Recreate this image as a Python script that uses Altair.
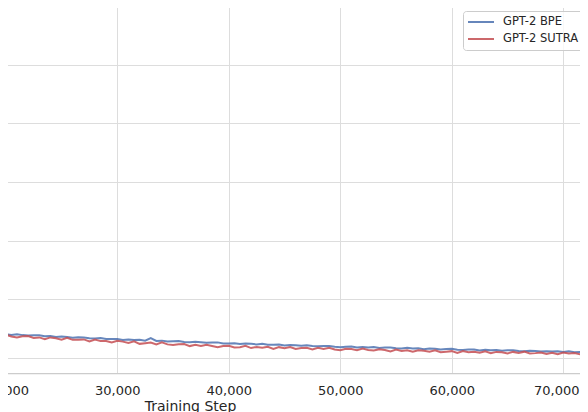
import altair as alt
import pandas as pd

steps = list(range(19000, 72001, 500))

bpe_loss = [
    3.419, 3.405, 3.407, 3.393, 3.404, 3.390, 3.382, 3.388, 3.387, 3.371,
    3.373, 3.360, 3.368, 3.358, 3.346, 3.353, 3.351, 3.337, 3.334, 3.340,
    3.322, 3.325, 3.325, 3.308, 3.316, 3.307, 3.311, 3.296, 3.339, 3.291,
    3.296, 3.280, 3.287, 3.288, 3.274, 3.267, 3.277, 3.270, 3.259, 3.265,
    3.266, 3.248, 3.249, 3.252, 3.237, 3.248, 3.241, 3.232, 3.242, 3.225,
    3.226, 3.231, 3.214, 3.223, 3.218, 3.207, 3.218, 3.206, 3.199, 3.206,
    3.205, 3.192, 3.185, 3.193, 3.194, 3.180, 3.188, 3.180, 3.187, 3.169,
    3.177, 3.179, 3.166, 3.162, 3.174, 3.162, 3.165, 3.151, 3.163, 3.157,
    3.146, 3.154, 3.156, 3.142, 3.138, 3.144, 3.146, 3.130, 3.140, 3.132,
    3.138, 3.124, 3.130, 3.134, 3.120, 3.114, 3.125, 3.119, 3.109, 3.117,
    3.109, 3.115, 3.103, 3.113, 3.097, 3.104, 3.096,
]

sutra_loss = [
    3.402, 3.372, 3.398, 3.367, 3.350, 3.371, 3.374, 3.342, 3.351, 3.320,
    3.351, 3.338, 3.313, 3.344, 3.309, 3.312, 3.317, 3.282, 3.315, 3.288,
    3.290, 3.265, 3.292, 3.279, 3.257, 3.283, 3.241, 3.253, 3.263, 3.232,
    3.266, 3.232, 3.222, 3.235, 3.239, 3.203, 3.225, 3.204, 3.226, 3.204,
    3.184, 3.205, 3.207, 3.179, 3.185, 3.207, 3.169, 3.189, 3.173, 3.191,
    3.155, 3.185, 3.167, 3.187, 3.155, 3.169, 3.173, 3.145, 3.173, 3.155,
    3.175, 3.145, 3.133, 3.159, 3.152, 3.132, 3.160, 3.136, 3.127, 3.147,
    3.137, 3.112, 3.144, 3.120, 3.132, 3.107, 3.133, 3.123, 3.106, 3.132,
    3.098, 3.107, 3.117, 3.086, 3.120, 3.097, 3.106, 3.088, 3.113, 3.080,
    3.104, 3.097, 3.078, 3.104, 3.085, 3.108, 3.078, 3.083, 3.095, 3.070,
    3.089, 3.063, 3.092, 3.077, 3.085, 3.064, 3.078,
]

series_names = ["GPT-2 BPE", "GPT-2 SUTRA"]
series_colors = ["#4c72b0", "#c44e52"]
x_ticks = [20000, 30000, 40000, 50000, 60000, 70000]
y_grid = [3, 4, 5, 6, 7, 8, 9]

assert len(steps) == len(bpe_loss) == len(sutra_loss)

df = pd.concat([
    pd.DataFrame({"step": steps, "loss": bpe_loss, "model": series_names[0]}),
    pd.DataFrame({"step": steps, "loss": sutra_loss, "model": series_names[1]}),
])

chart = alt.Chart(df).mark_line(strokeWidth=2, opacity=0.85, clip=True).encode(
    x=alt.X("step:Q",
            scale=alt.Scale(domain=[19300, 71500], nice=False, zero=False),
            axis=alt.Axis(values=x_ticks, format=",d", title="Training Step",
                          labelFlush=False, labelOverlap=False,
                          labelOffset={"condition": {"test": "datum.value == 70000", "value": -7},
                                       "value": 0},
                          titleX=192, titleY=26, titleBaseline="top",
                          titleAnchor="middle", titleAlign="center")),
    y=alt.Y("loss:Q",
            scale=alt.Scale(domain=[2.7443, 9.1019], nice=False, zero=False),
            axis=alt.Axis(values=y_grid, labels=False, ticks=False, domain=False, title=None)),
    color=alt.Color("model:N",
                    scale=alt.Scale(domain=series_names, range=series_colors),
                    legend=alt.Legend(title=None, orient="none", legendX=465, legendY=11,
                                      symbolType="stroke", symbolSize=676,
                                      symbolStrokeWidth=2, clipHeight=14,
                                      rowPadding=3, labelOffset=8, padding=4,
                                      labelFontSize=11.5, labelColor="#262626",
                                      strokeColor="#cccccc", cornerRadius=3,
                                      fillColor="rgba(255,255,255,0.8)")),
    order=alt.Order("step:Q"),
).properties(
    width=582, height=373,
    autosize=alt.AutoSizeParams(type="none"),
    padding={"left": -10, "top": -8, "right": 0, "bottom": 39},
).configure(
    font="DejaVu Sans",
).configure_view(
    strokeWidth=0,
).configure_axis(
    gridColor="#dddddd", gridWidth=1,
    labelFont="DejaVu Sans", labelFontSize=13, labelColor="#262626",
    titleFont="DejaVu Sans", titleFontSize=14, titleColor="#262626", titleFontWeight="normal",
    tickSize=0, labelPadding=11,
    domainColor="#cccccc", domainWidth=1.25,
).configure_legend(
    labelFont="DejaVu Sans",
)

chart.save("out.html", embed_options={"renderer": "svg", "actions": False})
